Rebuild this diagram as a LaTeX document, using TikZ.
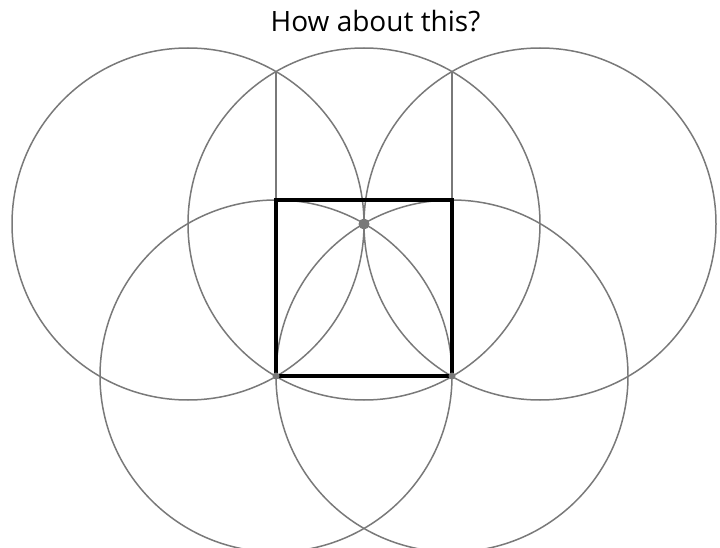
\documentclass[tikz,border=0pt]{standalone}
\usepackage{fontspec}
\setmainfont{Open Sans}
\begin{document}
\begin{tikzpicture}[x=1pt,y=-1pt,
  circ/.style={draw=gray!95!black, line width=1.5pt},
  guide/.style={draw=gray!95!black, line width=1.5pt},
  sq/.style={draw=black, line width=4.5pt},
  dotp/.style={circle, fill=gray!95!black, inner sep=0pt, minimum size=#1}]
\useasboundingbox (0,0) rectangle (720,548);
\node[font=\fontsize{28}{32}\selectfont, anchor=base, inner sep=0pt] (title) at (375.5,32) {How about this?};
\coordinate (c1) at (188,224);
\coordinate (c2) at (364,224);
\coordinate (c3) at (540,224);
\coordinate (BL) at (276,376);
\coordinate (BR) at (452,376);
\coordinate (TL) at (276,200);
\coordinate (TR) at (452,200);
\coordinate (ul) at (276,71.6);
\coordinate (ur) at (452,71.6);
\begin{scope}
\clip (0,0) rectangle (720,548);
\foreach \c in {c1,c2,c3,BL,BR} \draw[circ] (\c) circle (176);
\end{scope}
\draw[guide] (ul) -- (BL);
\draw[guide] (ur) -- (BR);
\draw[sq] (TL) rectangle (BR);
\node[dotp=11pt] (d1) at (c2) {};
\node[dotp=7pt] (d2) at (BL) {};
\node[dotp=7pt] (d3) at (BR) {};
\end{tikzpicture}
\end{document}
